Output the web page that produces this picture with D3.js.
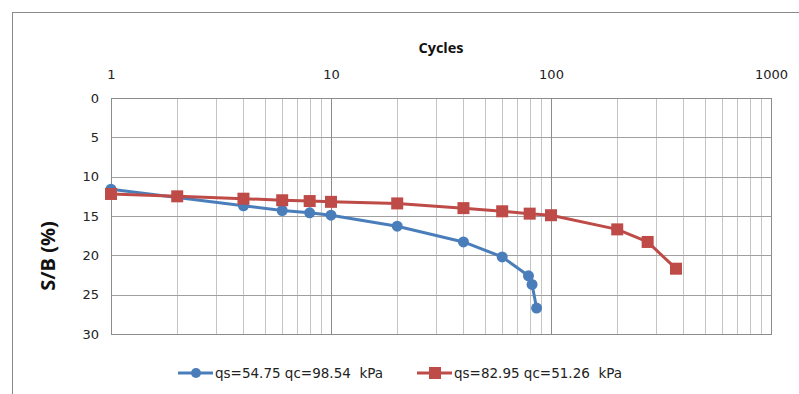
<!DOCTYPE html>
<html>
<head>
<meta charset="utf-8">
<script src="https://cdn.jsdelivr.net/npm/d3@7"></script>
<style>
  body { margin:0; background:#fff; }
  svg { display:block; }
  .leg text { white-space: pre; }
</style>
</head>
<body>
<svg id="chart" width="799" height="394"></svg>
<script>
// data
const xTicks = [1, 10, 100, 1000];
const yTicks = [0, 5, 10, 15, 20, 25, 30];

const blueCycles = [1, 4, 6, 8, 10, 20, 40, 60, 79, 82, 86];
const blueSB     = [11.6, 13.7, 14.3, 14.6, 14.9, 16.3, 18.3, 20.2, 22.6, 23.7, 26.7];

const redCycles = [1, 2, 4, 6, 8, 10, 20, 40, 60, 80, 100, 200, 275, 370];
const redSB     = [12.2, 12.5, 12.8, 13.0, 13.1, 13.2, 13.4, 14.0, 14.4, 14.7, 14.9, 16.7, 18.3, 21.7];

const seriesNames = ["qs=54.75 qc=98.54  kPa", "qs=82.95 qc=51.26  kPa"];

const svg = d3.select("#chart");
const m = {left:111, top:98, right:771, bottom:334};

const x = d3.scaleLog().domain([1,1000]).range([m.left, m.right]);
const y = d3.scaleLinear().domain([0,30]).range([m.top, m.bottom]);

// outer chart border
svg.append("rect").attr("x",12.5).attr("y",12.5).attr("width",820).attr("height",420)
  .attr("fill","none").attr("stroke","#8a8a8a").attr("stroke-width",1);

// minor vertical grid
const minor = [];
for (let d=1; d<1000; d*=10) for (let k=2; k<10; k++) minor.push(d*k);
svg.append("g").selectAll("line").data(minor).join("line")
  .attr("x1",d=>Math.round(x(d))+0.5).attr("x2",d=>Math.round(x(d))+0.5)
  .attr("y1",m.top).attr("y2",m.bottom)
  .attr("stroke","#c4c4c4").attr("stroke-width",1);

// horizontal grid
svg.append("g").selectAll("line").data(yTicks).join("line")
  .attr("x1",m.left).attr("x2",m.right)
  .attr("y1",d=>Math.round(y(d))+0.5).attr("y2",d=>Math.round(y(d))+0.5)
  .attr("stroke","#a0a0a0").attr("stroke-width",1);

// major vertical grid
svg.append("g").selectAll("line").data(xTicks).join("line")
  .attr("x1",d=>Math.round(x(d))+0.5).attr("x2",d=>Math.round(x(d))+0.5)
  .attr("y1",m.top).attr("y2",m.bottom)
  .attr("stroke","#8c8c8c").attr("stroke-width",1);

svg.append("rect").attr("x",m.left+0.5).attr("y",m.top+0.5)
  .attr("width",m.right-m.left).attr("height",m.bottom-m.top)
  .attr("fill","none").attr("stroke","#8c8c8c");

// axes labels via d3 axes (no domain / tick lines)
const xAxis = svg.append("g").attr("transform",`translate(0,${m.top-16})`)
  .call(d3.axisTop(x).tickValues(xTicks).tickFormat(d3.format("d")).tickSize(0));
xAxis.select(".domain").remove();
xAxis.selectAll("text").attr("font-family","DejaVu Sans, Verdana, sans-serif")
  .attr("font-size",13).attr("fill","#222");

const yAxis = svg.append("g").attr("transform",`translate(${m.left-9},0)`)
  .call(d3.axisLeft(y).tickValues(yTicks).tickSize(0));
yAxis.select(".domain").remove();
yAxis.selectAll("text").attr("font-family","DejaVu Sans, Verdana, sans-serif")
  .attr("font-size",13).attr("fill","#222");

svg.append("text").attr("x",441).attr("y",53).attr("text-anchor","middle")
  .attr("font-family","Open Sans, Liberation Sans, sans-serif").attr("font-weight","bold")
  .attr("font-size",14.5).attr("fill","#111").text("Cycles");

svg.append("text").attr("transform","translate(55,256) rotate(-90)").attr("text-anchor","middle")
  .attr("font-family","Open Sans, Liberation Sans, sans-serif").attr("font-weight","bold")
  .attr("font-size",20).attr("fill","#111").text("S/B (%)");

// series
const blue = blueCycles.map((c,i)=>({c, v:blueSB[i]}));
const red = redCycles.map((c,i)=>({c, v:redSB[i]}));
const line = d3.line().x(d=>x(d.c)).y(d=>y(d.v));

svg.append("path").datum(blue).attr("d",line).attr("fill","none")
  .attr("stroke","#4a7ebb").attr("stroke-width",3).attr("stroke-linejoin","round");
svg.append("g").selectAll("circle").data(blue).join("circle")
  .attr("cx",d=>x(d.c)).attr("cy",d=>y(d.v)).attr("r",5.5).attr("fill","#4a7ebb");

svg.append("path").datum(red).attr("d",line).attr("fill","none")
  .attr("stroke","#be4b48").attr("stroke-width",3).attr("stroke-linejoin","round");
svg.append("g").selectAll("rect").data(red).join("rect")
  .attr("x",d=>x(d.c)-6).attr("y",d=>y(d.v)-6).attr("width",12).attr("height",12)
  .attr("fill","#be4b48");

// legend
const lg = svg.append("g").attr("class","leg")
  .attr("font-family","DejaVu Sans, Verdana, sans-serif").attr("font-size",13.5);
const legendX = [178, 417];
[["#4a7ebb","circle"],["#be4b48","square"]].forEach(([col,shape],i)=>{
  const g = lg.append("g").attr("transform",`translate(${legendX[i]},373)`);
  g.append("line").attr("x1",0).attr("x2",35).attr("stroke",col).attr("stroke-width",3);
  if (shape==="circle") g.append("circle").attr("cx",18).attr("r",5).attr("fill",col);
  else g.append("rect").attr("x",12).attr("y",-6).attr("width",12).attr("height",12).attr("fill",col);
  g.append("text").attr("x",37).attr("dy","0.35em").attr("fill","#222").text(seriesNames[i]);
});
</script>
</body>
</html>
